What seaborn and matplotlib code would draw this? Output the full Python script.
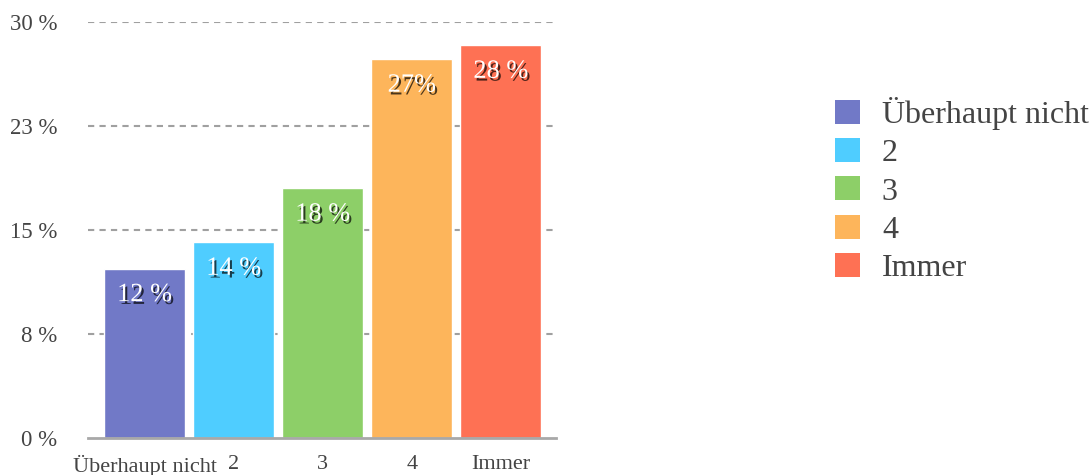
import matplotlib
matplotlib.use("Agg")
import matplotlib.pyplot as plt
import matplotlib.patheffects as pe
from matplotlib.patches import Patch
import seaborn as sns
import pandas as pd

# data
categories = ["Überhaupt nicht", "2", "3", "4", "Immer"]
values = [12.2, 14.1, 18.0, 27.3, 28.3]
value_labels = ["12 %", "14 %", "18 %", "27%", "28 %"]
colors = ["#7179C7", "#4FCDFF", "#8DCF68", "#FDB55B", "#FE7154"]
y_ticks = [0, 7.5, 15, 22.5, 30]
y_tick_labels = ["0 %", "8 %", "15 %", "23 %", "30 %"]

df = pd.DataFrame({"cat": categories, "val": values})

sns.set_style("white")
plt.rcParams["font.family"] = ["Liberation Serif", "DejaVu Serif"]

fig = plt.figure(figsize=(10.91, 4.75), dpi=100)
ax = fig.add_axes([0.0807, 0.078, 0.429, 0.876])

sns.barplot(data=df, x="cat", y="val", hue="cat", palette=colors,
            width=0.91, saturation=1, legend=False, ax=ax)

ax.set_ylim(0, 30)
ax.set_xlim(-0.635, 4.62)
ax.set_yticks(y_ticks)
ax.set_yticklabels(y_tick_labels, fontsize=16.5, color="#444444")
ax.set_xticks(range(len(categories)))
ax.set_xticklabels(categories, fontsize=16, color="#444444")
ax.tick_params(axis="both", length=0)
ax.tick_params(axis="y", pad=22)
ax.tick_params(axis="x", pad=12)
ax.set_xlabel("")
ax.set_ylabel("")

# dashed grid lines (not at zero)
for t in y_ticks[1:]:
    ax.axhline(t, color="#a0a0a0", linestyle=(0, (3, 2.5)), linewidth=1.5, zorder=0)
ax.set_axisbelow(True)

for s in ["top", "right", "left"]:
    ax.spines[s].set_visible(False)
ax.spines["bottom"].set_color("#a8a8a8")
ax.spines["bottom"].set_linewidth(2)

# value labels inside the bars, with a dark shadow
shadow = [pe.withSimplePatchShadow(offset=(1.5, -2), shadow_rgbFace="black", alpha=0.7)]
for i, (v, lab) in enumerate(zip(values, value_labels)):
    ax.annotate(lab, (i, v), xytext=(0, -19), textcoords="offset points",
                ha="center", va="center", fontsize=19, color="white",
                path_effects=shadow)

handles = [Patch(facecolor=c, edgecolor="none") for c in colors]
fig.legend(handles, categories, loc="upper left", bbox_to_anchor=(0.765, 0.795),
           frameon=False, fontsize=23, handlelength=0.78, handleheight=0.78,
           handletextpad=0.7, labelspacing=0.25, borderpad=0, borderaxespad=0,
           labelcolor="#444444")

fig.savefig("out.png", dpi=100)
